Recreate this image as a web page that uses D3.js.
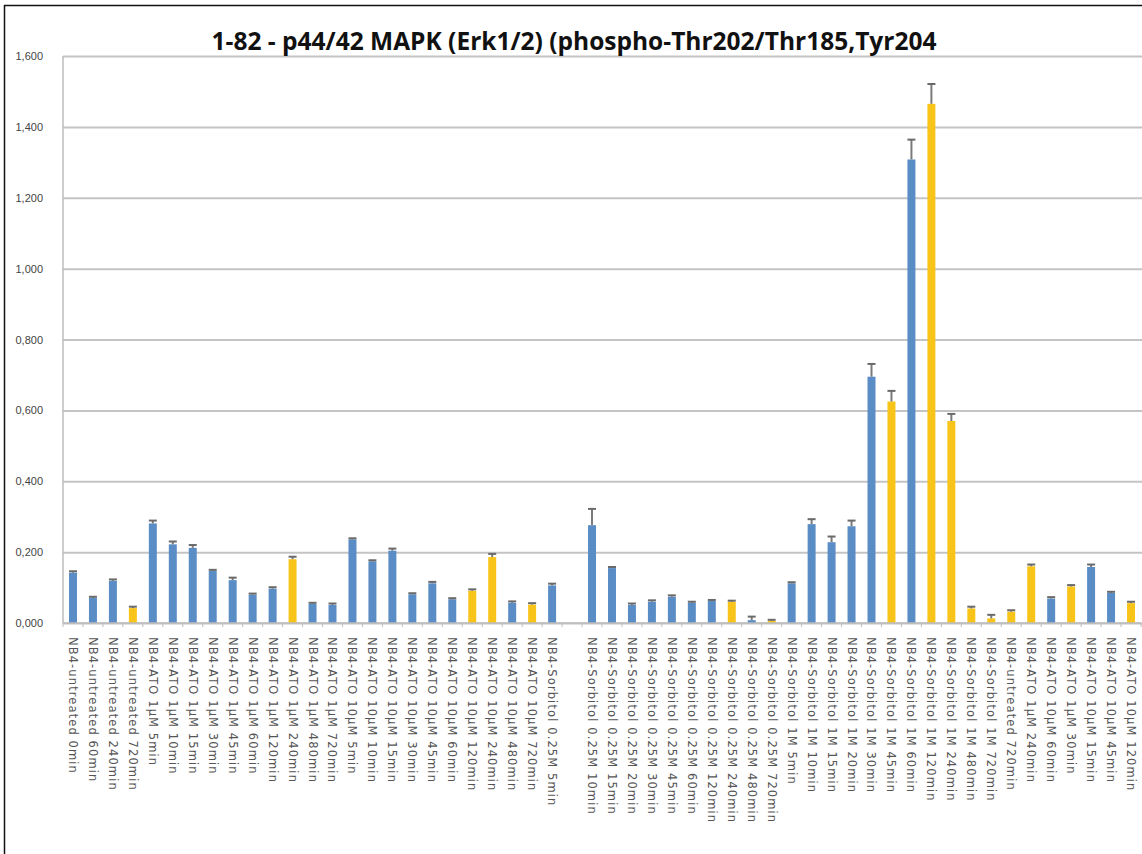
<!DOCTYPE html>
<html>
<head>
<meta charset="utf-8">
<script src="https://cdn.jsdelivr.net/npm/d3@7"></script>
<style>
  html, body { margin: 0; padding: 0; background: #fff; }
  svg { display: block; }
</style>
</head>
<body>
<svg id="chart" width="1142" height="854"></svg>
<script>
// Sample labels, in plot order ("" marks the empty slot between the two groups)
const categories = [
  "NB4-untreated 0min", "NB4-untreated 60min", "NB4-untreated 240min", "NB4-untreated 720min",
  "NB4-ATO 1µM 5min", "NB4-ATO 1µM 10min", "NB4-ATO 1µM 15min", "NB4-ATO 1µM 30min",
  "NB4-ATO 1µM 45min", "NB4-ATO 1µM 60min", "NB4-ATO 1µM 120min", "NB4-ATO 1µM 240min",
  "NB4-ATO 1µM 480min", "NB4-ATO 1µM 720min",
  "NB4-ATO 10µM 5min", "NB4-ATO 10µM 10min", "NB4-ATO 10µM 15min", "NB4-ATO 10µM 30min",
  "NB4-ATO 10µM 45min", "NB4-ATO 10µM 60min", "NB4-ATO 10µM 120min", "NB4-ATO 10µM 240min",
  "NB4-ATO 10µM 480min", "NB4-ATO 10µM 720min",
  "NB4-Sorbitol 0.25M 5min", "",
  "NB4-Sorbitol 0.25M 10min", "NB4-Sorbitol 0.25M 15min", "NB4-Sorbitol 0.25M 20min",
  "NB4-Sorbitol 0.25M 30min", "NB4-Sorbitol 0.25M 45min", "NB4-Sorbitol 0.25M 60min",
  "NB4-Sorbitol 0.25M 120min", "NB4-Sorbitol 0.25M 240min", "NB4-Sorbitol 0.25M 480min",
  "NB4-Sorbitol 0.25M 720min",
  "NB4-Sorbitol 1M 5min", "NB4-Sorbitol 1M 10min", "NB4-Sorbitol 1M 15min", "NB4-Sorbitol 1M 20min",
  "NB4-Sorbitol 1M 30min", "NB4-Sorbitol 1M 45min", "NB4-Sorbitol 1M 60min", "NB4-Sorbitol 1M 120min",
  "NB4-Sorbitol 1M 240min", "NB4-Sorbitol 1M 480min", "NB4-Sorbitol 1M 720min",
  "NB4-untreated 720min", "NB4-ATO 1µM 240min", "NB4-ATO 10µM 60min", "NB4-ATO 1µM 30min",
  "NB4-ATO 10µM 15min", "NB4-ATO 10µM 45min", "NB4-ATO 10µM 120min"
];

// Mean signal per sample (null = no bar)
const values = [
  0.142, 0.071, 0.119, 0.042,
  0.281, 0.222, 0.212, 0.147, 0.121, 0.080, 0.097, 0.180, 0.054, 0.051,
  0.236, 0.174, 0.204, 0.081, 0.112, 0.067, 0.091, 0.186, 0.057, 0.052,
  0.106, null,
  0.276, 0.155, 0.051, 0.060, 0.074, 0.057, 0.062, 0.060, 0.008, 0.006,
  0.112, 0.279, 0.228, 0.273, 0.695, 0.625, 1.308, 1.465, 0.570, 0.041, 0.013,
  0.032, 0.160, 0.069, 0.103, 0.158, 0.085, 0.056
];

// Upper error (same units as values)
const errors = [
  0.004, 0.003, 0.004, 0.004,
  0.008, 0.008, 0.008, 0.003, 0.007, 0.003, 0.004, 0.007, 0.003, 0.004,
  0.003, 0.003, 0.006, 0.003, 0.004, 0.003, 0.004, 0.009, 0.004, 0.004,
  0.005, null,
  0.046, 0.003, 0.004, 0.004, 0.004, 0.003, 0.003, 0.003, 0.010, 0.003,
  0.003, 0.014, 0.016, 0.016, 0.036, 0.030, 0.056, 0.056, 0.020, 0.005, 0.010,
  0.004, 0.005, 0.004, 0.004, 0.007, 0.003, 0.004
];

// Bar group: "A" = blue, "B" = yellow
const groups = [
  "A", "A", "A", "B",
  "A", "A", "A", "A", "A", "A", "A", "B", "A", "A",
  "A", "A", "A", "A", "A", "A", "B", "B", "A", "B",
  "A", "A",
  "A", "A", "A", "A", "A", "A", "A", "B", "A", "B",
  "A", "A", "A", "A", "A", "B", "A", "B", "B", "B", "B",
  "B", "B", "A", "B", "A", "A", "B"
];

const yTicks = [0, 0.2, 0.4, 0.6, 0.8, 1.0, 1.2, 1.4, 1.6];
const title = "1-82 - p44/42 MAPK (Erk1/2) (phospho-Thr202/Thr185,Tyr204";

const groupColor = { A: "#5A8DC6", B: "#F8C419" };

const svg = d3.select("#chart");
const W = 1142, H = 854;
const plot = { left: 63, right: 1141, top: 56, bottom: 623 };

// frame
svg.append("line").attr("x1", 4.5).attr("x2", 4.5).attr("y1", 5).attr("y2", H)
  .attr("stroke", "#111").attr("stroke-width", 1.5);
svg.append("line").attr("x1", 4).attr("x2", W).attr("y1", 5.5).attr("y2", 5.5)
  .attr("stroke", "#111").attr("stroke-width", 1.5);

const idx = d3.range(categories.length);
const x = d3.scaleBand().domain(idx).range([plot.left, plot.right])
  .paddingInner(0.6).paddingOuter(0.3);
const xSlots = d3.scaleBand().domain(idx).range([plot.left, plot.right]).padding(0);
const y = d3.scaleLinear().domain([0, 1.6]).range([plot.bottom, plot.top]);

const fmt = d3.formatLocale({ decimal: ",", thousands: ".", grouping: [3], currency: ["", ""] }).format(".3f");

// gridlines + y labels
const yAxis = svg.append("g").attr("transform", `translate(${plot.left},0)`)
  .call(d3.axisLeft(y).tickValues(yTicks).tickFormat(fmt)
    .tickSize(-(W - plot.left)).tickPadding(20));
yAxis.select(".domain").remove();
yAxis.selectAll(".tick line").attr("stroke", "#c4c4c4").attr("stroke-width", 2);
yAxis.selectAll(".tick text")
  .attr("font-family", "'Liberation Sans', Arial, sans-serif")
  .attr("font-size", 11).attr("fill", "#444");

// y axis line
svg.append("line").attr("x1", plot.left).attr("x2", plot.left)
  .attr("y1", plot.top).attr("y2", plot.bottom)
  .attr("stroke", "#bdbdbd").attr("stroke-width", 1.5);

// bars
const data = idx.map(i => ({ i, v: values[i], e: errors[i], g: groups[i] }))
  .filter(d => d.v !== null);

svg.append("g").selectAll("rect").data(data).join("rect")
  .attr("x", d => x(d.i))
  .attr("width", x.bandwidth())
  .attr("y", d => y(d.v))
  .attr("height", d => y(0) - y(d.v))
  .attr("fill", d => groupColor[d.g]);

// error bars
const eb = svg.append("g").selectAll("g").data(data).join("g")
  .attr("transform", d => `translate(${x(d.i) + x.bandwidth() / 2},0)`);
eb.append("line")
  .attr("y1", d => y(d.v)).attr("y2", d => y(d.v + d.e))
  .attr("stroke", "#7a7a7a").attr("stroke-width", 2);
eb.append("line")
  .attr("x1", -4).attr("x2", 4)
  .attr("y1", d => y(d.v + d.e)).attr("y2", d => y(d.v + d.e))
  .attr("stroke", "#6a6a6a").attr("stroke-width", 2);

// x axis with slot-boundary ticks
svg.append("line").attr("x1", plot.left).attr("x2", plot.right)
  .attr("y1", plot.bottom).attr("y2", plot.bottom)
  .attr("stroke", "#bdbdbd").attr("stroke-width", 1.5);
svg.append("g").selectAll("line").data(idx.concat([categories.length])).join("line")
  .attr("x1", d => d < categories.length ? xSlots(d) : plot.right)
  .attr("x2", d => d < categories.length ? xSlots(d) : plot.right)
  .attr("y1", plot.bottom).attr("y2", plot.bottom + 4)
  .attr("stroke", "#bdbdbd").attr("stroke-width", 1);

// category labels, rotated to read downward
const xAxis = svg.append("g").attr("transform", `translate(0,${plot.bottom})`)
  .call(d3.axisBottom(x).tickSize(0).tickFormat(i => categories[i]));
xAxis.select(".domain").remove();
xAxis.selectAll(".tick text")
  .attr("transform", "translate(0,14) rotate(90)")
  .attr("x", 0).attr("y", 0).attr("dy", "0.35em")
  .attr("text-anchor", "start")
  .attr("font-family", "'DejaVu Sans', sans-serif")
  .attr("font-size", 11.5).attr("letter-spacing", 1.1).attr("fill", "#555");

// title
svg.append("text").attr("x", 574).attr("y", 50)
  .attr("text-anchor", "middle")
  .attr("font-family", "'Open Sans', Lato, sans-serif")
  .attr("font-weight", "bold").attr("font-size", 24.5).attr("fill", "#111")
  .text(title);
</script>
</body>
</html>
